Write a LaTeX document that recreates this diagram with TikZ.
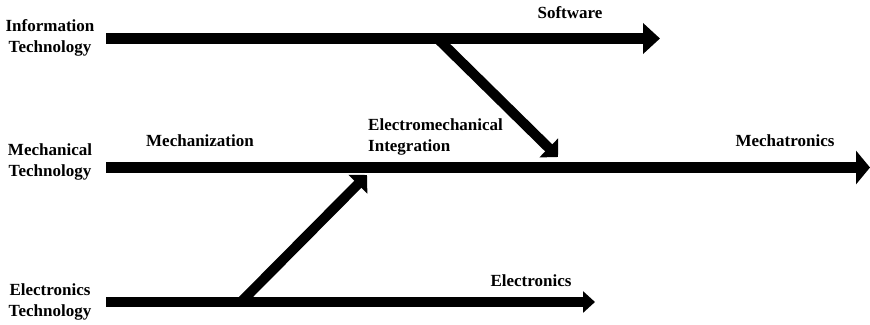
\documentclass[tikz,border=0pt]{standalone}
\usepackage{fontspec}
\setmainfont{Liberation Serif}
\usetikzlibrary{arrows.meta}
\tikzset{lbl/.style={font=\fontsize{17}{21}\selectfont\bfseries, inner sep=0pt},
  mainarrow/.style n args={3}{line width=#1, -{Triangle[length=#2, width=#3]}},
  diagarrow/.style={line width=10pt, -{Triangle[length=13pt, width=26pt]}}
}

\begin{document}
\begin{tikzpicture}[x=1pt, y=-1pt]
      \useasboundingbox (0,0) rectangle (870,324);
      \node[lbl, align=center] (info) at (50,38) {Information\\Technology};
      \node[lbl, align=center] (mech) at (50,162) {Mechanical\\Technology};
      \node[lbl, align=center] (elec) at (50,302) {Electronics\\Technology};
      \coordinate (info-s) at (106,38.5);
      \coordinate (info-e) at (660,38.5);
      \coordinate (mech-s) at (106,167.5);
      \coordinate (mech-e) at (870,167.5);
      \coordinate (elec-s) at (106,302);
      \coordinate (elec-e) at (595,302);
      \coordinate (down-s) at (437.5,38.5);
      \coordinate (down-e) at (558,157);
      \coordinate (up-s) at (241,302);
      \coordinate (up-e) at (367,175);
      \draw[diagarrow] (down-s) -- (down-e);
      \draw[diagarrow] (up-s) -- (up-e);
      \draw[mainarrow={11pt}{17pt}{30pt}] (info-s) -- (info-e);
      \draw[mainarrow={11pt}{14pt}{33pt}] (mech-s) -- (mech-e);
      \draw[mainarrow={9.5pt}{12pt}{21pt}] (elec-s) -- (elec-e);
      \node[lbl] (soft) at (570,13) {Software};
      \node[lbl] (mechz) at (200,141) {Mechanization};
      \node[lbl, align=left, anchor=west] (emi) at (368,136.5) {Electromechanical\\Integration};
      \node[lbl] (mtron) at (785,141) {Mechatronics};
      \node[lbl] (etron) at (531,281) {Electronics};
    \end{tikzpicture}
\end{document}
